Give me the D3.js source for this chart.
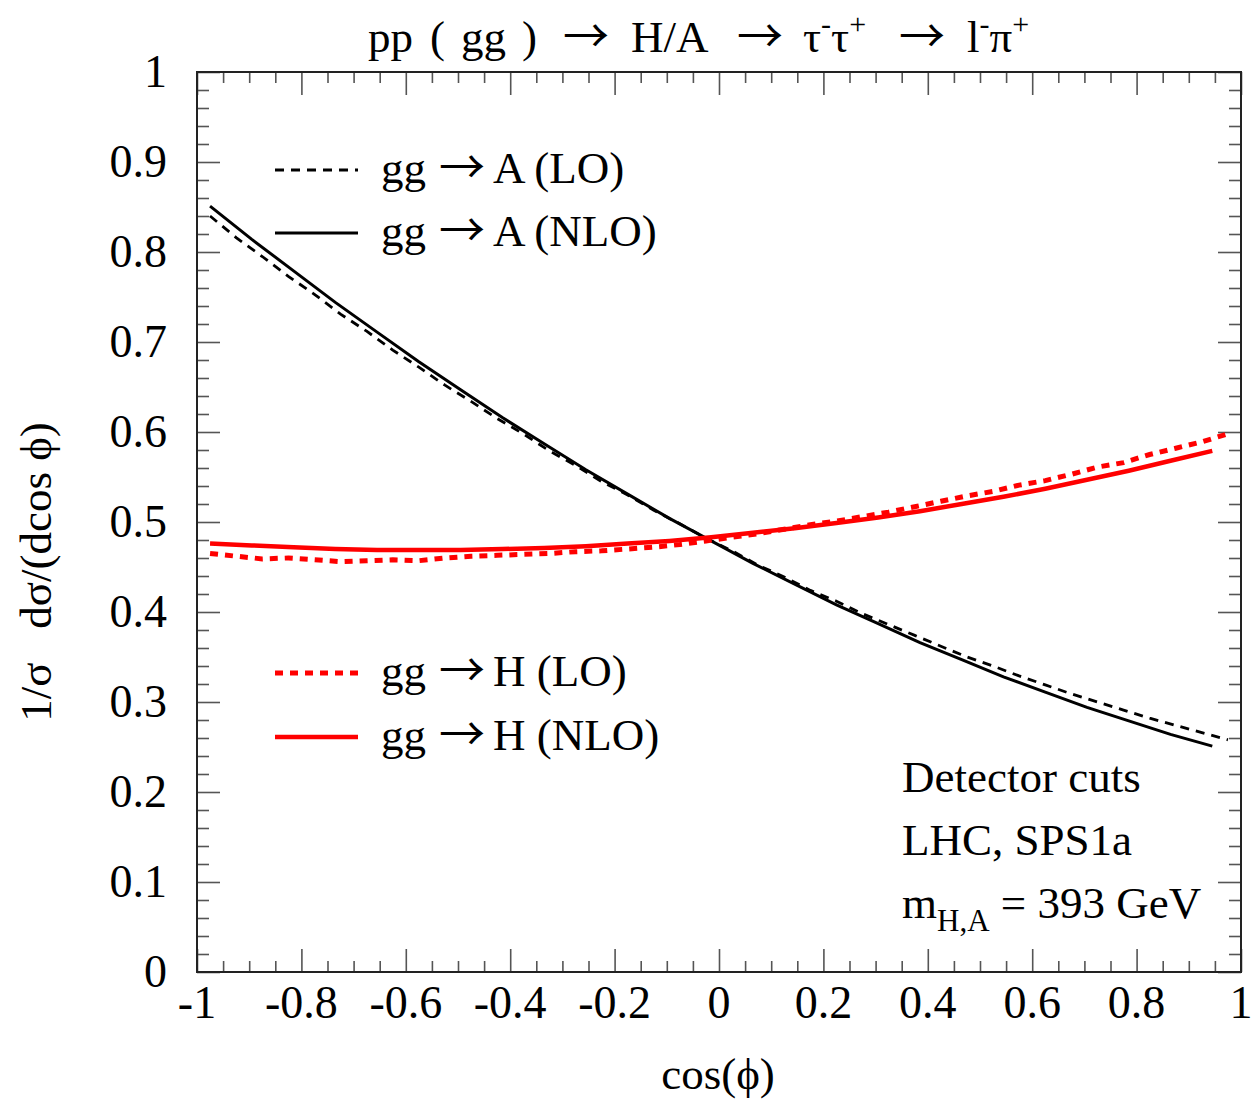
<!DOCTYPE html>
<html><head><meta charset="utf-8">
<script src="https://cdn.jsdelivr.net/npm/d3@7"></script>
<style>
html,body{margin:0;padding:0;background:#fff;}
text{font-family:"Liberation Serif","Times New Roman",serif;fill:#000;}
.arr{font-family:"Noto Sans CJK SC","DejaVu Serif",serif;}
</style></head>
<body><svg id="c" width="1260" height="1102"></svg>
<script>
// ---------- data ----------
const xTickValues = [-1,-0.8,-0.6,-0.4,-0.2,0,0.2,0.4,0.6,0.8,1];
const xTickLabels = ["-1","-0.8","-0.6","-0.4","-0.2","0","0.2","0.4","0.6","0.8","1"];
const yTickValues = [0,0.1,0.2,0.3,0.4,0.5,0.6,0.7,0.8,0.9,1];
const yTickLabels = ["0","0.1","0.2","0.3","0.4","0.5","0.6","0.7","0.8","0.9","1"];

const xLO = [-0.975,-0.925,-0.875,-0.825,-0.775,-0.725,-0.675,-0.625,-0.575,-0.525,
  -0.475,-0.425,-0.375,-0.325,-0.275,-0.225,-0.175,-0.125,-0.075,-0.025,
  0.025,0.075,0.125,0.175,0.225,0.275,0.325,0.375,0.425,0.475,
  0.525,0.575,0.625,0.675,0.725,0.775,0.825,0.875,0.925,0.975];
const xNLO = [-0.975,-0.895,-0.815,-0.735,-0.655,-0.575,-0.495,-0.415,-0.335,-0.255,
  -0.175,-0.095,-0.015,0.065,0.145,0.225,0.305,0.385,0.465,0.545,
  0.625,0.705,0.785,0.865,0.945];

const A_LO = [0.840,0.816,0.795,0.773,0.753,0.731,0.712,0.691,0.672,0.652,
  0.634,0.615,0.598,0.579,0.563,0.545,0.530,0.513,0.498,0.482,
  0.468,0.452,0.439,0.424,0.412,0.398,0.386,0.374,0.362,0.350,
  0.340,0.329,0.319,0.309,0.300,0.291,0.282,0.274,0.266,0.258];
const A_NLO = [0.851,0.814,0.779,0.744,0.711,0.678,0.647,0.616,0.587,0.558,
  0.531,0.504,0.479,0.454,0.431,0.408,0.387,0.366,0.347,0.328,
  0.311,0.294,0.279,0.264,0.251];
const H_LO = [0.465,0.462,0.459,0.460,0.458,0.456,0.457,0.458,0.457,0.460,
  0.462,0.463,0.464,0.465,0.467,0.468,0.470,0.472,0.475,0.479,
  0.483,0.487,0.492,0.497,0.501,0.506,0.511,0.517,0.523,0.529,
  0.534,0.541,0.546,0.553,0.561,0.566,0.575,0.582,0.589,0.598];
const H_NLO = [0.476,0.474,0.472,0.470,0.469,0.469,0.469,0.470,0.471,0.473,
  0.476,0.479,0.483,0.488,0.493,0.499,0.505,0.512,0.520,0.528,
  0.537,0.547,0.557,0.568,0.579];

const seriesProc = ["gg","gg","gg","gg"];
const seriesFinal = ["A (LO)","A (NLO)","H (LO)","H (NLO)"];

// ---------- drawing ----------
const svg = d3.select("#c");
const L=197, R=1241, T=72, B=972;
const FS = 45;
const x = d3.scaleLinear().domain([-1,1]).range([L,R]);
const y = d3.scaleLinear().domain([0,1]).range([B,T]);

const xMinor = d3.range(-1,1.0001,0.05).filter(v=>Math.abs(Math.round(v*5)-v*5)>1e-6);
const yMinor = d3.range(0,1.0001,0.02).filter(v=>Math.abs(Math.round(v*10)-v*10)>1e-6);

function styleAxis(g){ g.select(".domain").remove(); g.selectAll("line").attr("stroke","#555").attr("stroke-width",1.6); }

svg.append("g").attr("transform",`translate(0,${B})`).call(d3.axisBottom(x).tickValues(xTickValues).tickSize(-23).tickFormat("")).call(styleAxis);
svg.append("g").attr("transform",`translate(0,${B})`).call(d3.axisBottom(x).tickValues(xMinor).tickSize(-11).tickFormat("")).call(styleAxis);
svg.append("g").attr("transform",`translate(0,${T})`).call(d3.axisTop(x).tickValues(xTickValues).tickSize(-23).tickFormat("")).call(styleAxis);
svg.append("g").attr("transform",`translate(0,${T})`).call(d3.axisTop(x).tickValues(xMinor).tickSize(-11).tickFormat("")).call(styleAxis);
svg.append("g").attr("transform",`translate(${L},0)`).call(d3.axisLeft(y).tickValues(yTickValues).tickSize(-23).tickFormat("")).call(styleAxis);
svg.append("g").attr("transform",`translate(${L},0)`).call(d3.axisLeft(y).tickValues(yMinor).tickSize(-12).tickFormat("")).call(styleAxis);
svg.append("g").attr("transform",`translate(${R},0)`).call(d3.axisRight(y).tickValues(yTickValues).tickSize(-23).tickFormat("")).call(styleAxis);
svg.append("g").attr("transform",`translate(${R},0)`).call(d3.axisRight(y).tickValues(yMinor).tickSize(-12).tickFormat("")).call(styleAxis);

svg.append("rect").attr("x",L).attr("y",T).attr("width",R-L).attr("height",B-T)
  .attr("fill","none").attr("stroke","#222").attr("stroke-width",2);

// tick labels
svg.append("g").selectAll("text").data(xTickValues).join("text")
  .attr("x",d=>x(d)).attr("y",1018).attr("text-anchor","middle").attr("font-size",46)
  .text((d,i)=>xTickLabels[i]);
svg.append("g").selectAll("text").data(yTickValues).join("text")
  .attr("x",167).attr("y",d=>y(d)+15).attr("text-anchor","end").attr("font-size",46)
  .text((d,i)=>yTickLabels[i]);

// curves
const line = d3.line().x(d=>x(d[0])).y(d=>y(d[1]));
const curves = [
  {xs:xLO, ys:A_LO, color:"#000", w:2.8, dash:"9,7"},
  {xs:xNLO, ys:A_NLO, color:"#000", w:3, dash:null},
  {xs:xLO, ys:H_LO, color:"#ff0000", w:5, dash:"8,7"},
  {xs:xNLO, ys:H_NLO, color:"#ff0000", w:4.5, dash:null}
];
curves.forEach(c=>{
  svg.append("path").datum(c.xs.map((v,i)=>[v,c.ys[i]]))
    .attr("d",line).attr("fill","none").attr("stroke",c.color)
    .attr("stroke-width",c.w).attr("stroke-dasharray",c.dash);
});

// legend
const legY = [170,233,673,737];
curves.forEach((c,i)=>{
  svg.append("line").attr("x1",275).attr("x2",358).attr("y1",legY[i]).attr("y2",legY[i])
    .attr("stroke",c.color).attr("stroke-width",c.w).attr("stroke-dasharray",c.dash);
  const t = svg.append("text").attr("y",legY[i]+13).attr("font-size",FS);
  t.append("tspan").attr("x",381).text(seriesProc[i]);
  t.append("tspan").attr("x",439).attr("class","arr").attr("font-size",46).text("\u2192");
  t.append("tspan").attr("x",493).text(seriesFinal[i]);
});

// annotations
svg.append("text").attr("x",902).attr("y",792).attr("font-size",FS).text("Detector cuts");
svg.append("text").attr("x",902).attr("y",855).attr("font-size",FS).text("LHC, SPS1a");
const m = svg.append("text").attr("x",902).attr("y",918).attr("font-size",FS);
m.append("tspan").text("m");
m.append("tspan").attr("dy",13).attr("font-size",31).text("H,A");
m.append("tspan").attr("dy",-13).text(" = 393 GeV");

// title
const t = svg.append("text").attr("y",52).attr("font-size",FS);
t.append("tspan").attr("x",368).text("pp");
t.append("tspan").attr("x",430).text("(");
t.append("tspan").attr("x",461).text("gg");
t.append("tspan").attr("x",522).text(")");
t.append("tspan").attr("x",563).attr("class","arr").attr("font-size",46).text("\u2192");
t.append("tspan").attr("x",631).text("H/A");
t.append("tspan").attr("x",737).attr("class","arr").attr("font-size",46).text("\u2192");
t.append("tspan").attr("x",803).text("\u03c4");
t.append("tspan").attr("dy",-18).attr("font-size",30).text("-");
t.append("tspan").attr("dy",18).text("\u03c4");
t.append("tspan").attr("dy",-18).attr("font-size",30).text("+");
t.append("tspan").attr("dy",18).attr("x",899).attr("class","arr").attr("font-size",46).text("\u2192");
t.append("tspan").attr("x",967).text("l");
t.append("tspan").attr("dy",-18).attr("font-size",30).text("-");
t.append("tspan").attr("dy",18).text("\u03c0");
t.append("tspan").attr("dy",-18).attr("font-size",30).text("+");

// axis titles
svg.append("text").attr("x",718).attr("y",1089).attr("text-anchor","middle").attr("font-size",FS).text("cos(\u03d5)");
svg.append("text").attr("transform","translate(51,572) rotate(-90)").attr("text-anchor","middle").attr("font-size",FS)
  .text("1/\u03c3\u00a0\u00a0\u00a0d\u03c3/(dcos \u03d5)");
</script></body></html>
